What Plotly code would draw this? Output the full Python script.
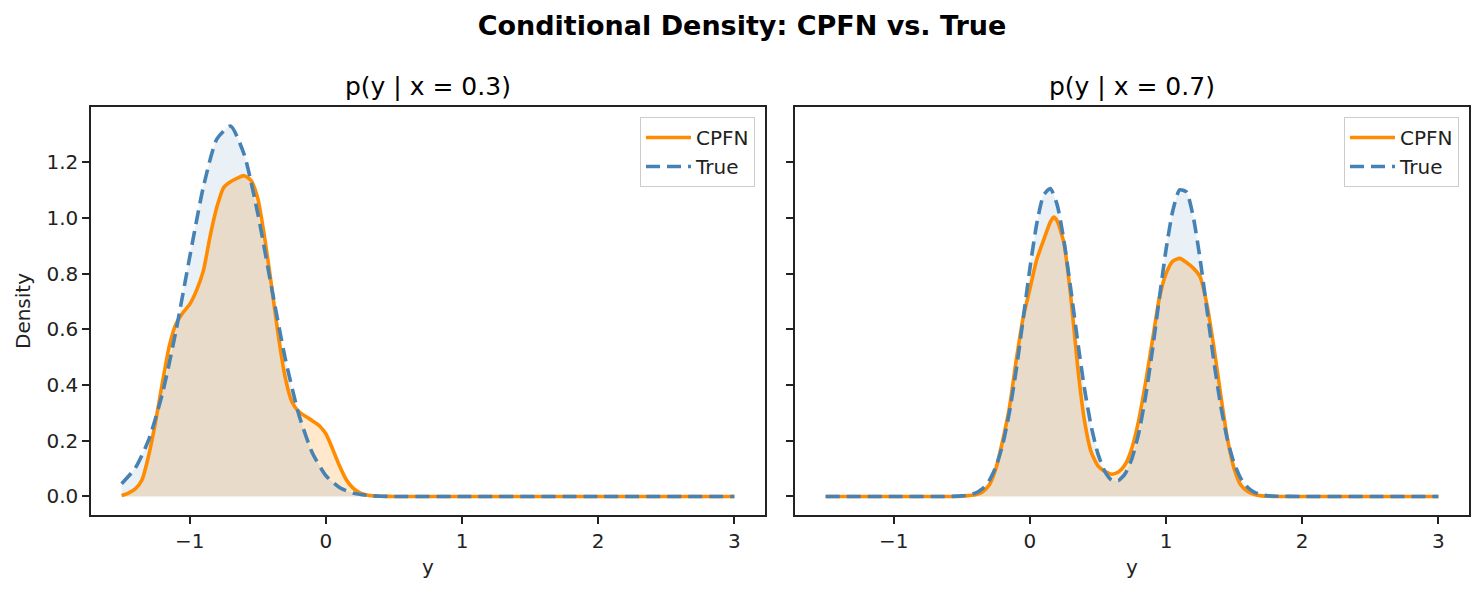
import plotly.graph_objects as go
from plotly.subplots import make_subplots

# ---------------- data ----------------
x_left_true = [-1.5, -1.4, -1.3, -1.2, -1.1, -1.0, -0.9, -0.8, -0.7, -0.6, -0.5, -0.4,
               -0.3, -0.2, -0.1, 0.0, 0.1, 0.2, 0.3, 0.4, 0.5, 1.0, 2.0, 3.0]
y_left_true = [0.046, 0.102, 0.205, 0.370, 0.597, 0.860, 1.111, 1.284, 1.330, 1.228, 1.016, 0.753,
               0.499, 0.296, 0.157, 0.075, 0.032, 0.012, 0.004, 0.001, 0.0, 0.0, 0.0, 0.0]

x_left_cpfn = [-1.5, -1.45, -1.4, -1.35, -1.3, -1.25, -1.2, -1.15, -1.1, -1.05, -1.0, -0.95,
               -0.9, -0.85, -0.8, -0.75, -0.7, -0.65, -0.6, -0.55, -0.5, -0.45, -0.4, -0.35,
               -0.3, -0.25, -0.2, -0.15, -0.1, -0.05, 0.0, 0.05, 0.1, 0.15, 0.2, 0.25,
               0.3, 0.35, 0.4, 0.5, 1.0, 2.0, 3.0]
y_left_cpfn = [0.003, 0.012, 0.027, 0.06, 0.15, 0.27, 0.41, 0.54, 0.62, 0.66, 0.69, 0.74,
               0.81, 0.935, 1.04, 1.11, 1.13, 1.143, 1.152, 1.135, 1.07, 0.93, 0.76, 0.58,
               0.43, 0.34, 0.305, 0.288, 0.272, 0.255, 0.225, 0.17, 0.11, 0.06, 0.03, 0.013,
               0.005, 0.002, 0.001, 0.0, 0.0, 0.0, 0.0]

x_right_true = [-1.5, -1.0, -0.6, -0.5, -0.45, -0.4, -0.35, -0.3, -0.25, -0.2, -0.15, -0.1, -0.05,
                0.0, 0.05, 0.1, 0.15, 0.2, 0.25, 0.3, 0.35, 0.4, 0.45, 0.5, 0.55,
                0.6, 0.65, 0.7, 0.75, 0.8, 0.85, 0.9, 0.95, 1.0, 1.05, 1.1, 1.15,
                1.2, 1.25, 1.3, 1.35, 1.4, 1.45, 1.5, 1.55, 1.6, 1.65, 1.7, 1.75, 1.8,
                2.0, 2.5, 3.0]
y_right_true = [0.0, 0.0, 0.0, 0.002, 0.005, 0.012, 0.027, 0.056, 0.106, 0.186, 0.303, 0.455, 0.635,
                0.819, 0.978, 1.081, 1.106, 1.048, 0.919, 0.746, 0.561, 0.390, 0.253, 0.153, 0.090,
                0.059, 0.057, 0.082, 0.137, 0.228, 0.360, 0.525, 0.709, 0.887, 1.027, 1.101, 1.093,
                1.004, 0.853, 0.672, 0.490, 0.330, 0.206, 0.119, 0.064, 0.032, 0.015, 0.006, 0.002, 0.001,
                0.0, 0.0, 0.0]

x_right_cpfn = [-1.5, -1.0, -0.6, -0.5, -0.45, -0.4, -0.35, -0.3, -0.25, -0.2, -0.15, -0.1, -0.05,
                0.0, 0.05, 0.1, 0.15, 0.175, 0.2, 0.25, 0.3, 0.35, 0.4, 0.45, 0.5, 0.55,
                0.6, 0.65, 0.7, 0.75, 0.8, 0.85, 0.9, 0.95, 1.0, 1.05, 1.1, 1.15,
                1.2, 1.25, 1.3, 1.35, 1.4, 1.45, 1.5, 1.55, 1.6, 1.65, 1.7, 1.75, 1.8,
                2.0, 2.5, 3.0]
y_right_cpfn = [0.0, 0.0, 0.0, 0.001, 0.003, 0.006, 0.015, 0.04, 0.10, 0.20, 0.32, 0.49, 0.64,
                0.745, 0.85, 0.92, 0.985, 1.003, 0.99, 0.91, 0.72, 0.47, 0.275, 0.16, 0.11, 0.09,
                0.08, 0.088, 0.115, 0.175, 0.275, 0.41, 0.56, 0.71, 0.80, 0.845, 0.855, 0.84,
                0.82, 0.789, 0.69, 0.54, 0.37, 0.21, 0.10, 0.04, 0.018, 0.007, 0.002, 0.001, 0.0,
                0.0, 0.0, 0.0]

panel_titles = ["p(y | x = 0.3)", "p(y | x = 0.7)"]
x_ticks = [-1, 0, 1, 2, 3]
y_ticks = [0.0, 0.2, 0.4, 0.6, 0.8, 1.0, 1.2]

# ---------------- styling ----------------
ORANGE = "#ff8c00"
BLUE = "#4682b4"
FONT = "DejaVu Sans"
W, H = 1484, 593
ML, MR, MT, MB = 91, 15, 107, 78

fig = make_subplots(rows=1, cols=2, shared_yaxes=True, horizontal_spacing=30 / (W - ML - MR))

panels = [
    (x_left_cpfn, y_left_cpfn, x_left_true, y_left_true, "legend"),
    (x_right_cpfn, y_right_cpfn, x_right_true, y_right_true, "legend2"),
]
for i, (xc, yc, xt, yt, leg) in enumerate(panels, start=1):
    # fills
    fig.add_trace(go.Scatter(x=xc, y=yc, mode="lines", fill="tozeroy", line=dict(width=0, shape="spline", smoothing=0.6),
                             fillcolor="rgba(255,140,0,0.2)", showlegend=False, hoverinfo="skip"), row=1, col=i)
    fig.add_trace(go.Scatter(x=xt, y=yt, mode="lines", fill="tozeroy", line=dict(width=0, shape="spline", smoothing=0.6),
                             fillcolor="rgba(70,130,180,0.12)", showlegend=False, hoverinfo="skip"), row=1, col=i)
    # lines
    fig.add_trace(go.Scatter(x=xc, y=yc, mode="lines", name="CPFN", legend=leg,
                             line=dict(color=ORANGE, width=3.6, shape="spline", smoothing=0.6)), row=1, col=i)
    fig.add_trace(go.Scatter(x=xt, y=yt, mode="lines", name="True", legend=leg,
                             line=dict(color=BLUE, width=3.6, dash="14px,7px", shape="spline", smoothing=0.6)),
                  row=1, col=i)

axis_common = dict(showline=True, linecolor="#222222", linewidth=1.5, mirror=True, ticks="outside",
                   ticklen=7, tickwidth=1.5, tickcolor="#222222", showgrid=False, zeroline=False,
                   tickfont=dict(family=FONT, size=20, color="#222222"))

for i in (1, 2):
    fig.update_xaxes(range=[-1.725, 3.225], tickvals=x_ticks, ticktext=["\u22121", "0", "1", "2", "3"],
                     title=dict(text="y", font=dict(family=FONT, size=20, color="#222222"), standoff=8),
                     row=1, col=i, **axis_common)
    fig.update_yaxes(range=[-0.0666, 1.3986], tickvals=y_ticks, tickformat=".1f", row=1, col=i, **axis_common)

fig.update_yaxes(showticklabels=False, row=1, col=2)
fig.update_yaxes(title=dict(text="Density", font=dict(family=FONT, size=20, color="#222222"), standoff=10),
                 row=1, col=1)

pw = W - ML - MR
ph = H - MT - MB
legend_common = dict(bgcolor="rgba(255,255,255,0.8)", bordercolor="#cccccc", borderwidth=1,
                     font=dict(family=FONT, size=20, color="#222222"), xanchor="right", yanchor="top",
                     itemwidth=45, y=1 - (117 - MT) / ph)
fig.update_layout(
    width=W, height=H,
    margin=dict(l=ML, r=MR, t=MT, b=MB),
    plot_bgcolor="white", paper_bgcolor="white",
    font=dict(family=FONT, color="#222222"),
    legend=dict(x=(755 - ML) / pw, **legend_common),
    legend2=dict(x=(1459 - ML) / pw, **legend_common),
    title=dict(text="<b>Conditional Density: CPFN vs. True</b>", x=0.5, xanchor="center",
               y=1 - 26 / H, yanchor="middle", font=dict(family=FONT, size=27, color="black")),
)

for i, t in enumerate(panel_titles, start=1):
    xr = "x domain" if i == 1 else "x2 domain"
    yr = "y domain" if i == 1 else "y2 domain"
    fig.add_annotation(text=t, x=0.5, y=1, xref=xr, yref=yr, xanchor="center", yanchor="bottom",
                       yshift=4, showarrow=False, font=dict(family=FONT, size=25, color="black"))

fig.write_html("out.html")
